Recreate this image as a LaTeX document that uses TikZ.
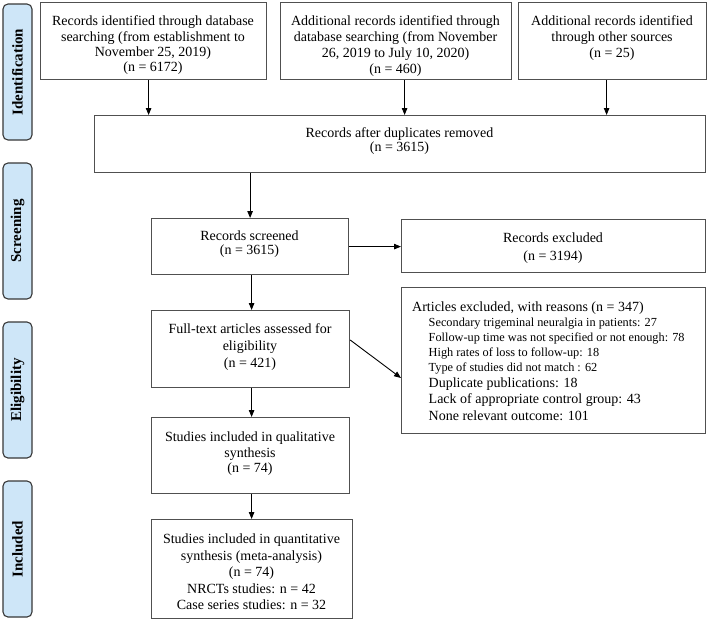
\documentclass[tikz,border=0pt]{standalone}
\usepackage{fontspec}
\setmainfont{Liberation Serif}
\usetikzlibrary{arrows.meta}
\definecolor{labfill}{RGB}{206,230,248}
\definecolor{labdraw}{RGB}{55,55,55}
\definecolor{boxdraw}{RGB}{80,80,80}
\tikzset{
  box/.style={draw=boxdraw, line width=1.2pt, fill=white, inner sep=0pt, anchor=north west},
  txt/.style={align=center, inner sep=0pt, font=\fontsize{14}{#1}\selectfont},
  txt/.default=15.5,
  lab/.style={draw=labdraw, line width=1.1pt, fill=labfill, rounded corners=5pt, rotate=90,
              minimum width=136pt, minimum height=29pt, inner sep=0pt,
              font=\fontsize{15}{17}\selectfont\bfseries},
  arr/.style={draw=black, line width=0.9pt, -{Triangle[length=7pt,width=5.5pt]}}
}
\newcommand{\sm}[1]{{\fontsize{12.3}{15}\selectfont #1}}
\begin{document}
\begin{tikzpicture}[x=1pt,y=-1pt]
\useasboundingbox (0,0) rectangle (708,621);
% phase labels
\node[lab] (lid) at (17.5,72) {Identification};
\node[lab] (lsc) at (17.5,231) {Screening};
\node[lab] (lel) at (17.5,390) {Eligibility};
\node[lab] (lin) at (17.5,549) {Included};
% boxes
\node[box, minimum width=226pt, minimum height=77pt] (A) at (40,2) {};
\node[box, minimum width=231pt, minimum height=77pt] (B) at (280,2) {};
\node[box, minimum width=188pt, minimum height=77pt] (C) at (518,2) {};
\node[box, minimum width=611pt, minimum height=57pt] (D) at (94,115) {};
\node[box, minimum width=197pt, minimum height=56pt] (E) at (151,218) {};
\node[box, minimum width=304pt, minimum height=53pt] (F) at (401,219) {};
\node[box, minimum width=198pt, minimum height=77pt] (G) at (151,310) {};
\node[box, minimum width=304pt, minimum height=146pt] (H) at (401,287) {};
\node[box, minimum width=198pt, minimum height=76pt] (I) at (151,417) {};
\node[box, minimum width=201pt, minimum height=99pt] (J) at (151,519) {};
% texts
\node[txt=15.3] (At) at (153,45.5)
  {Records identified through database\\searching (from establishment to\\November 25, 2019)\\(n = 6172)};
\node[txt=15.8] (Bt) at (395.5,46)
  {Additional records identified through\\database searching (from November\\26, 2019 to July 10, 2020)\\(n = 460)};
\node[txt=16] (Ct) at (612,38)
  {Additional records identified\\through other sources\\(n = 25)};
\node[txt=14.5] (Dt) at (399.5,141)
  {Records after duplicates removed\\(n = 3615)};
\node[txt=14.5] (Et) at (249.5,244)
  {Records screened\\(n = 3615)};
\node[txt=17.5] (Ft) at (553,248)
  {Records excluded\\(n = 3194)};
\node[txt=17] (Gt) at (250,347)
  {Full-text articles assessed for\\eligibility\\(n = 421)};
\node[txt=15, align=left, anchor=west] (Ht) at (412,361.5)
  {Articles excluded, with reasons (n = 347)\\
   \hspace*{16.5pt}\sm{Secondary trigeminal neuralgia in patients: 27}\\
   \hspace*{16.5pt}\sm{Follow-up time was not specified or not enough: 78}\\
   \hspace*{16.5pt}\sm{High rates of loss to follow-up: 18}\\
   \hspace*{16.5pt}\sm{Type of studies did not match : 62}\\[1pt]
   \hspace*{16.5pt}Duplicate publications: 18\\[1pt]
   \hspace*{16.5pt}Lack of appropriate control group: 43\\[2pt]
   \hspace*{16.5pt}None relevant outcome: 101};
\node[txt=15.5] (It) at (250,454)
  {Studies included in qualitative\\synthesis\\(n = 74)};
\node[txt=16.5] (Jt) at (251.5,572)
  {Studies included in quantitative\\synthesis (meta-analysis)\\(n = 74)\\NRCTs studies: n = 42\\Case series studies: n = 32};
% connectors
\draw[arr] ([xshift=-5pt]A.south) -- ([xshift=-5pt]A.south |- D.north);
\draw[arr] ([xshift=8.5pt]B.south) -- ([xshift=8.5pt]B.south |- D.north);
\draw[arr] ([xshift=-6pt]C.south) -- ([xshift=-6pt]C.south |- D.north);
\draw[arr] (E.north |- D.south) -- (E.north);
\draw[arr] (E.east) -- (E.east -| F.west);
\draw[arr] ([xshift=1pt]G.north |- E.south) -- ([xshift=1pt]G.north);
\draw[arr] ([yshift=-30pt]G.north east) -- ([yshift=-91pt]H.north west);
\draw[arr] ([xshift=1pt]G.south) -- ([xshift=1pt]I.north);
\draw[arr] ([xshift=1pt]I.south) -- ([xshift=1pt]I.south |- J.north);
\end{tikzpicture}
\end{document}
